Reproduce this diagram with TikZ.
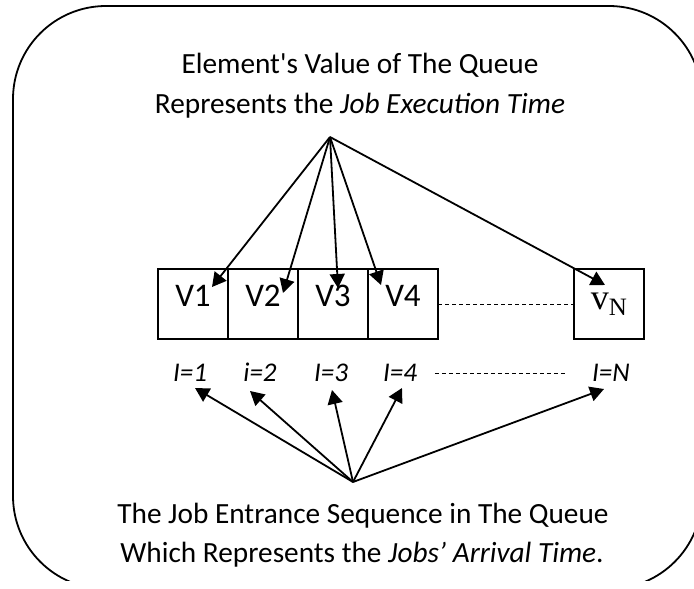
\documentclass[tikz,border=0pt]{standalone}
\usepackage{fontspec}
\setmainfont{Carlito}[Ligatures=TeXOff]
\newfontfamily\cellserif{Liberation Serif}
\usetikzlibrary{positioning,arrows.meta}

\begin{document}
\begin{tikzpicture}[x=1pt,y=-1pt,line width=1.8pt,
  every node/.style={font=\fontsize{29.3}{34}\selectfont},
  cell/.style={draw,minimum width=70pt,minimum height=70pt,outer sep=0pt,inner sep=0pt,font=\fontsize{33}{38}\selectfont},
  vcell/.style={cell,text height=21pt,text depth=16pt},
  lbl/.style={font=\fontsize{27}{30}\selectfont\itshape,anchor=base,inner sep=2pt},
  arr/.style={-{Triangle[length=14pt,width=15pt]}},
  gap/.style={line width=0.8pt,dash pattern=on 4pt off 3pt}]
\useasboundingbox (0,0) rectangle (694,589);
% frame, cut off at the bottom
\begin{scope}
\clip (0,0) rectangle (694,580);
\draw[rounded corners=93pt] (13,6) rectangle (702,589);
\end{scope}

\node[anchor=base] (top1) at (360,73) {Element's Value of The Queue};
\node[anchor=base] (top2) at (360,113) {Represents the \textit{Job Execution Time}};
\coordinate (src) at (330,137);

% queue cells
\node[vcell] (v1) at (193,304) {V1};
\node[vcell,right=0pt of v1] (v2) {V2};
\node[vcell,right=0pt of v2] (v3) {V3};
\node[vcell,right=0pt of v3] (v4) {V4};
\node[cell] (vN) at (609,304) {\cellserif\fontsize{36}{40}\selectfont v\raisebox{-6pt}{\fontsize{25}{30}\selectfont N}};
\draw[gap] (v4.east) -- (vN.west);

\draw[arr] (src) -- ([xshift=19pt,yshift=17pt]v1.center);
\draw[arr] (src) -- ([xshift=20pt,yshift=11pt]v2.center);
\draw[arr] (src) -- ([xshift=5pt,yshift=16pt]v3.center);
\draw[arr] (src) -- ([xshift=-22pt,yshift=19pt]v4.center);
\draw[arr] (src) -- ([xshift=-4pt,yshift=19pt]vN.center);

% entrance index
\node[lbl] (l1) at (190,381) {I=1};
\node[lbl] (l2) at (260,381) {i=2};
\node[lbl] (l3) at (331,381) {I=3};
\node[lbl] (l4) at (400,381) {I=4};
\node[lbl] (lN) at (611,381) {I=N};
\draw[gap] ([xshift=15pt,yshift=8pt]l4.base east) -- ([xshift=-23pt,yshift=8pt]lN.base west);

\node[anchor=base] (bot1) at (363,523) {The Job Entrance Sequence in The Queue};
\node[anchor=base] (bot2) at (362,562) {Which Represents the \textit{Jobs’ Arrival Time}.};
\coordinate (dst) at (353,482);

\draw[arr] (dst) -- ([xshift=5pt,yshift=-7pt]l1.base);
\draw[arr] (dst) -- ([xshift=-10pt,yshift=-10pt]l2.base);
\draw[arr] (dst) -- ([xshift=1pt,yshift=-9pt]l3.base);
\draw[arr] (dst) -- ([xshift=2pt,yshift=-7pt]l4.base);
\draw[arr] (dst) -- ([xshift=-7pt,yshift=-8pt]lN.base);
\end{tikzpicture}
\end{document}
